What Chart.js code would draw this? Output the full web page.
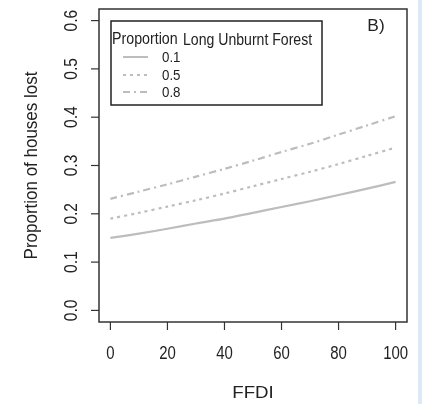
<!DOCTYPE html>
<html>
<head>
<meta charset="utf-8">
<script src="https://cdn.jsdelivr.net/npm/chart.js@4.4.1/dist/chart.umd.min.js"></script>
<style>
  html, body { margin: 0; padding: 0; background: #fff; overflow: hidden; }
  #wrap { position: relative; width: 422px; height: 404px; }
  #chart { display: block; }
  #strip { position: absolute; left: 418px; top: 0; width: 4px; height: 404px; background: #dde9f5; }
</style>
</head>
<body>
<div id="wrap">
  <canvas id="chart" width="422" height="404"></canvas>
  <div id="strip"></div>
</div>
<script>
// FFDI values along the x axis
var ffdi = [0, 10, 20, 30, 40, 50, 60, 70, 80, 90, 100];
// predicted proportion of houses lost, one series per long-unburnt-forest proportion
var lost01 = [0.150, 0.159, 0.169, 0.180, 0.190, 0.202, 0.214, 0.226, 0.239, 0.252, 0.266];
var lost05 = [0.190, 0.202, 0.215, 0.228, 0.242, 0.257, 0.272, 0.287, 0.303, 0.320, 0.337];
var lost08 = [0.231, 0.246, 0.261, 0.277, 0.293, 0.310, 0.328, 0.345, 0.364, 0.383, 0.402];
var seriesNames = ['0.1', '0.5', '0.8'];
var xTicks = [0, 20, 40, 60, 80, 100];
var yTicks = [0.0, 0.1, 0.2, 0.3, 0.4, 0.5, 0.6];

var FONT = '"Liberation Sans", Arial, sans-serif';
var lineColor = '#bdbdbd';
var dashes = [[], [3, 4], [7, 4, 2, 4]];

function toPoints(ys) {
    return ffdi.map(function (x, i) { return { x: x, y: ys[i] }; });
}

// text with a horizontal squeeze/stretch, optionally rotated
function txt(c, s, x, y, size, sx, rot, align) {
    c.save();
    c.translate(x, y);
    if (rot) c.rotate(rot);
    c.scale(sx, 1);
    c.font = size + 'px ' + FONT;
    c.textAlign = align || 'center';
    c.textBaseline = 'alphabetic';
    // centre the caps on y
    c.fillText(s, 0, size * 0.36);
    c.restore();
}

// axes, box, legend and panel label drawn the R way
var rAxes = {
    id: 'rAxes',
    afterDraw: function (chart) {
        var c = chart.ctx;
        var a = chart.chartArea;
        var xs = chart.scales.x, ys = chart.scales.y;
        c.save();
        c.strokeStyle = '#333';
        c.fillStyle = '#222';
        c.lineWidth = 1.5;
        c.strokeRect(a.left, a.top, a.right - a.left, a.bottom - a.top);

        c.lineWidth = 1.2;
        xTicks.forEach(function (t) {
            var px = xs.getPixelForValue(t);
            c.beginPath();
            c.moveTo(px, a.bottom);
            c.lineTo(px, a.bottom + 8);
            c.stroke();
            txt(c, String(t), px, 353, 18, 0.83);
        });
        yTicks.forEach(function (t) {
            var py = ys.getPixelForValue(t);
            c.beginPath();
            c.moveTo(a.left, py);
            c.lineTo(a.left - 8, py);
            c.stroke();
            txt(c, t.toFixed(1), 70, py, 18.5, 0.84, -Math.PI / 2);
        });

        txt(c, 'FFDI', (a.left + a.right) / 2, 392, 17, 1.1);
        txt(c, 'Proportion of houses lost', 31, (a.top + a.bottom) / 2, 17.5, 0.97, -Math.PI / 2);
        txt(c, 'B)', 376, 25, 16.5, 1.05);

        // legend
        c.lineWidth = 1.5;
        c.strokeStyle = '#222';
        c.strokeRect(111, 21, 211, 84);
        txt(c, 'Proportion', 112, 38, 16, 0.89, 0, 'left');
        txt(c, 'Long Unburnt Forest', 183, 39.5, 16, 0.88, 0, 'left');
        var rowsY = [57, 75, 92];
        chart.data.datasets.forEach(function (ds, i) {
            c.strokeStyle = lineColor;
            c.lineWidth = 2;
            c.setLineDash(dashes[i]);
            c.beginPath();
            c.moveTo(123, rowsY[i]);
            c.lineTo(148, rowsY[i]);
            c.stroke();
            c.setLineDash([]);
            c.fillStyle = '#222';
            txt(c, ds.label, 162, rowsY[i], 14, 0.95, 0, 'left');
        });
        c.restore();
    }
};

new Chart(document.getElementById('chart').getContext('2d'), {
    type: 'line',
    data: {
        datasets: [lost01, lost05, lost08].map(function (ys, i) {
            return {
                label: seriesNames[i],
                data: toPoints(ys),
                borderColor: lineColor,
                borderWidth: 2.2,
                borderDash: dashes[i],
                pointRadius: 0,
                tension: 0.3,
                fill: false
            };
        })
    },
    options: {
        responsive: false,
        animation: false,
        layout: { padding: { left: 99, right: 15, top: 9, bottom: 82 } },
        scales: {
            x: { type: 'linear', min: -4, max: 104, display: false },
            y: { type: 'linear', min: -0.024, max: 0.624, display: false }
        },
        plugins: {
            legend: { display: false },
            tooltip: { enabled: false }
        }
    },
    plugins: [rAxes]
});
</script>
</body>
</html>
